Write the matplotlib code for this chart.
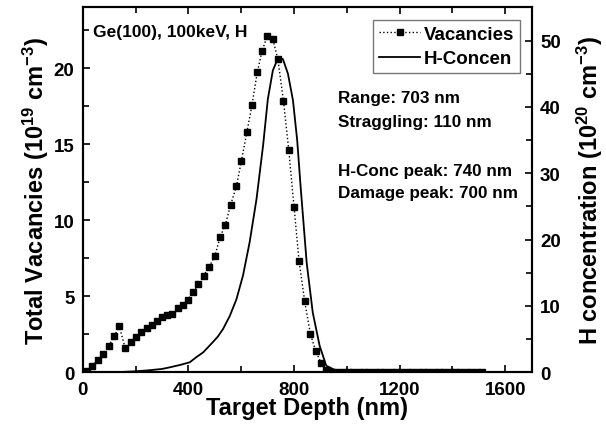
import numpy as np
import matplotlib
matplotlib.use('Agg')
import matplotlib.pyplot as plt
from matplotlib.ticker import MultipleLocator

plt.rcParams['font.family'] = ['Liberation Sans', 'DejaVu Sans']
plt.rcParams['font.weight'] = 'bold'
plt.rcParams['mathtext.fontset'] = 'custom'
plt.rcParams['mathtext.rm'] = 'Liberation Sans:bold'
plt.rcParams['mathtext.it'] = 'Liberation Sans:bold'
plt.rcParams['mathtext.bf'] = 'Liberation Sans:bold'
plt.rcParams['mathtext.default'] = 'rm'

# Vacancies (left axis, 10^19 cm^-3)
vac_x = [15, 36, 57, 78, 99, 120, 138, 161, 181, 201, 220, 242, 261, 280, 300,
         319, 339, 359, 378, 398, 418, 438, 458, 479, 500, 520, 540, 560, 582,
         601, 622, 641, 661, 679, 699, 719, 739, 760, 780, 800, 819, 840, 862,
         882, 903, 922, 943, 963, 984, 1004, 1024, 1045, 1065, 1085, 1105, 1126,
         1146, 1166, 1187, 1207, 1227, 1248, 1268, 1288, 1309, 1329, 1349, 1369,
         1390, 1410, 1430, 1451, 1471, 1491, 1512]
vac_y = [0.1, 0.43, 0.8, 1.2, 1.75, 2.37, 3.05, 1.58, 1.97, 2.3, 2.63, 2.93, 3.11,
         3.4, 3.62, 3.79, 3.83, 4.2, 4.43, 4.78, 5.26, 5.79, 6.36, 6.95, 7.63,
         8.88, 9.71, 11.0, 12.24, 13.92, 15.83, 17.6, 19.74, 21.12, 22.14, 21.95,
         20.59, 17.85, 14.64, 10.9, 7.34, 4.71, 2.52, 1.4, 0.59, 0.15, 0.05,
         0, 0, 0, 0, 0, 0, 0, 0, 0, 0, 0, 0, 0, 0, 0, 0, 0, 0, 0, 0, 0, 0, 0,
         0, 0, 0, 0, 0]

# H concentration (right axis, 10^20 cm^-3)
h_x = [50, 100, 150, 200, 250, 300, 330, 368, 405, 431, 456, 475, 494, 512, 531,
       557, 582, 607, 632, 658, 683, 701, 720, 739, 758, 777, 796, 812, 825, 835,
       848, 871, 897, 922, 960, 1000, 1100, 1500]
h_y = [0, 0.02, 0.05, 0.15, 0.3, 0.5, 0.75, 1.1, 1.5, 2.3, 3.0, 3.8, 4.6, 5.4,
       6.5, 8.5, 11.0, 14.6, 19.6, 26.1, 34.2, 41.2, 45.5, 47.3, 47.2, 45.0,
       41.0, 35.0, 28.0, 23.0, 16.5, 9.0, 4.0, 1.0, 0.24, 0.05, 0, 0]

notes = ['Range: 703 nm', 'Straggling: 110 nm', 'H-Conc peak: 740 nm',
         'Damage peak: 700 nm']
notes_y = [18.1, 16.5, 13.3, 11.8]   # in left-axis units

fig = plt.figure(figsize=(6.06, 4.39), dpi=100)
ax = fig.add_axes([0.1365, 0.1497, 0.7409, 0.8313])
ax2 = ax.twinx()

l1, = ax.plot(vac_x, vac_y, color='black', ls=':', lw=1.0, marker='s', ms=4.6,
              label='Vacancies')
l2, = ax2.plot(h_x, h_y, color='black', ls='-', lw=1.3, label='H-Concen')

ax.set_xlim(0, 1700)
ax.set_ylim(0, 24)
ax2.set_ylim(0, 55)

ax.xaxis.set_major_locator(MultipleLocator(400))
ax.xaxis.set_minor_locator(MultipleLocator(200))
ax.yaxis.set_major_locator(MultipleLocator(5))
ax.yaxis.set_minor_locator(MultipleLocator(2.5))
ax2.yaxis.set_major_locator(MultipleLocator(10))
ax2.yaxis.set_minor_locator(MultipleLocator(5))

ax.tick_params(which='both', direction='in', top=True, right=False, width=1.2,
               labelsize=13.5, pad=6)
ax.tick_params(which='major', length=5)
ax.tick_params(which='minor', length=4)
ax2.tick_params(which='both', direction='in', width=1.2, labelsize=13.5, pad=6)
ax2.tick_params(which='major', length=5)
ax2.tick_params(which='minor', length=4)
for a in (ax, ax2):
    for s in a.spines.values():
        s.set_linewidth(1.5)

ax.set_xlabel('Target Depth (nm)', fontsize=17, fontweight='bold', labelpad=-1)
ax.set_ylabel('Total Vacancies (10$^{19}$ cm$^{-3}$)', fontsize=17,
              fontweight='bold', labelpad=2)
ax2.set_ylabel('H concentration (10$^{20}$ cm$^{-3}$)', fontsize=17,
               fontweight='bold', rotation=90, labelpad=10)

ax.text(0.023, 0.935, 'Ge(100), 100keV, H', transform=ax.transAxes,
        fontsize=12.5, fontweight='bold', va='center', ha='left')
for t, yy in zip(notes, notes_y):
    ax.text(965, yy, t, fontsize=12.3, fontweight='bold', va='center', ha='left')

leg = ax.legend(handles=[l1, l2], loc='upper right',
                bbox_to_anchor=(0.974, 0.965), borderaxespad=0, fontsize=13.5,
                frameon=True, fancybox=False, handlelength=2.2,
                handletextpad=0.2, borderpad=0.3, labelspacing=0.4,
                markerscale=0.8)
leg.get_frame().set_edgecolor('#555555')
leg.get_frame().set_linewidth(1.0)
for t in leg.get_texts():
    t.set_fontweight('bold')

fig.savefig('out.png', dpi=100)
